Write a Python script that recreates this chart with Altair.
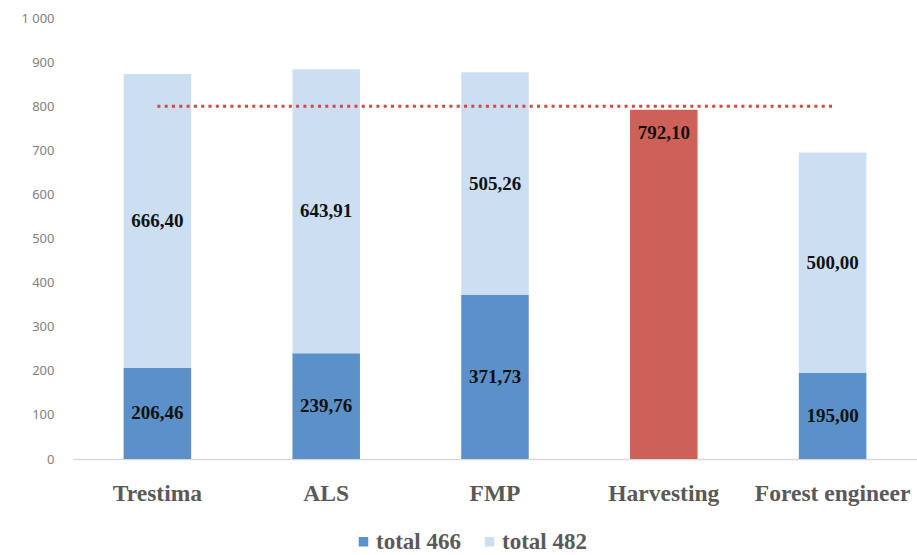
import altair as alt
import pandas as pd

categories = ["Trestima", "ALS", "FMP", "Harvesting", "Forest engineer"]
total_466 = [206.46, 239.76, 371.73, None, 195.00]
total_482 = [666.40, 643.91, 505.26, None, 500.00]
harvesting_value = 792.10
threshold = 800
y_ticks = [0, 100, 200, 300, 400, 500, 600, 700, 800, 900, 1000]

rows = []
for c, a, b in zip(categories, total_466, total_482):
    if a is not None:
        rows.append({"category": c, "series": "total 466", "value": a, "ord": 0})
    if b is not None:
        rows.append({"category": c, "series": "total 482", "value": b, "ord": 1})
rows.append({"category": "Harvesting", "series": "Harvesting", "value": harvesting_value, "ord": 0})
df = pd.DataFrame(rows)

thr_df = pd.DataFrame({"x0": [categories[0]], "x1": [categories[-1]], "y": [threshold]})

xscale = alt.Scale(domain=categories, paddingInner=0.6, paddingOuter=0.3)
yscale = alt.Scale(domain=[0, 1000], nice=False)

base = alt.Chart(df).transform_stack(
    stack="value", groupby=["category"], as_=["v0", "v1"], sort=[alt.SortField("ord")]
).transform_calculate(
    mid="(datum.v0 + datum.v1) / 2",
    lab="replace(format(datum.value, '.2f'), '.', ',')",
)

bars = base.mark_bar().encode(
    x=alt.X("category:N", scale=xscale, sort=categories, title=None,
            axis=alt.Axis(labelAngle=0, labelFont="Liberation Serif", labelFontWeight="bold",
                          labelFontSize=23.5, labelColor="#595959", ticks=False, tickSize=0,
                          labelPadding=22, domainColor="#D9D9D9", domainWidth=1.5)),
    y=alt.Y("v0:Q", scale=yscale, title=None,
            axis=alt.Axis(values=y_ticks, grid=False, domain=False, ticks=False, tickSize=0,
                          labelPadding=19, labelFont="Noto Sans", labelFontSize=13,
                          labelColor="#7F7F7F",
                          labelExpr="replace(format(datum.value, ','), ',', ' ')")),
    y2="v1:Q",
    color=alt.Color("series:N",
                    scale=alt.Scale(domain=["total 466", "total 482", "Harvesting"],
                                    range=["#5B90C8", "#CCDFF2", "#CD6158"]),
                    legend=alt.Legend(values=["total 466", "total 482"], title=None,
                                      orient="none", legendX=279, legendY=512,
                                      direction="horizontal", symbolType="square",
                                      symbolSize=90, symbolStrokeWidth=0,
                                      labelOffset=1, columnPadding=17, padding=0)),
)

text_stack = base.transform_filter("datum.series != 'Harvesting'").mark_text(
    font="Liberation Serif", fontWeight="bold", fontSize=19, color="#111111", baseline="middle"
).encode(
    x=alt.X("category:N", scale=xscale, sort=categories),
    y=alt.Y("mid:Q", scale=yscale),
    text="lab:N",
)

text_harv = base.transform_filter("datum.series == 'Harvesting'").mark_text(
    font="Liberation Serif", fontWeight="bold", fontSize=19, color="#111111",
    baseline="middle", dy=23
).encode(
    x=alt.X("category:N", scale=xscale, sort=categories),
    y=alt.Y("v1:Q", scale=yscale),
    text="lab:N",
)

rule = alt.Chart(thr_df).mark_rule(
    color="#D8453C", strokeWidth=3, strokeDash=[3, 4.3]
).encode(
    x=alt.X("x0:N", scale=xscale),
    x2="x1:N",
    y=alt.Y("y:Q", scale=yscale),
)

chart = alt.layer(bars, text_stack, text_harv, rule).properties(
    width=844, height=441,
    padding={"left": 73, "top": 18, "right": 0, "bottom": 96},
    autosize=alt.AutoSizeParams(type="none"),
).configure(background="white", font="Liberation Serif").configure_view(
    stroke=None
).configure_legend(
    labelFont="Liberation Serif", labelFontWeight="bold", labelFontSize=23, labelColor="#595959"
)

chart.save("out.html", embed_options={"renderer": "svg", "actions": False})
